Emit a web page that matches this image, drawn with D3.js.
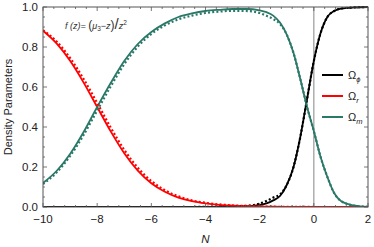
<!DOCTYPE html>
<html>
<head>
<meta charset="utf-8">
<script src="https://cdn.jsdelivr.net/npm/d3@7"></script>
<style>
  body { margin: 0; background: #fff; }
  text { font-family: "Liberation Sans", Arial, sans-serif; }
</style>
</head>
<body>
<div id="chart"></div>
<script>
// e-folding number N (sample points)
const nVals = [-10, -9.5, -9, -8.5, -8, -7.5, -7, -6.5, -6, -5.5, -5, -4.5, -4, -3.5, -3, -2.5,
               -2, -1.75, -1.5, -1.25, -1, -0.75, -0.5, -0.25, 0, 0.25, 0.5, 0.75, 1, 1.5, 2];

// solid curves
const phiSolid = [0, 0, 0, 0, 0, 0, 0, 0, 0, 0, 0, 0, 0.001, 0.001, 0.002, 0.003,
                  0.01, 0.018, 0.033, 0.055, 0.11, 0.2, 0.35, 0.54, 0.73, 0.87, 0.95, 0.98, 0.992, 0.998, 1.0];
const radSolid = [0.881, 0.818, 0.731, 0.622, 0.5, 0.378, 0.269, 0.182, 0.119, 0.076, 0.047, 0.029, 0.018, 0.011, 0.007, 0.004,
                  0.0025, 0.002, 0.0015, 0.001, 0.0008, 0.0005, 0.0003, 0.0002, 0.0001, 0, 0, 0, 0, 0, 0];
const matSolid = [0.12, 0.18, 0.265, 0.375, 0.5, 0.62, 0.73, 0.815, 0.875, 0.918, 0.95, 0.968, 0.98, 0.986, 0.99, 0.99,
                  0.983, 0.974, 0.957, 0.922, 0.862, 0.77, 0.64, 0.5, 0.38, 0.25, 0.15, 0.07, 0.03, 0.007, 0.001];

// dotted curves
const phiDot = [0, 0, 0, 0, 0, 0, 0, 0, 0, 0, 0, 0, 0.001, 0.002, 0.003, 0.006,
                0.017, 0.03, 0.047, 0.063, 0.11, 0.2, 0.35, 0.54, 0.73, 0.87, 0.95, 0.98, 0.992, 0.998, 1.0];
const radDot = [0.884, 0.828, 0.745, 0.64, 0.52, 0.397, 0.286, 0.196, 0.13, 0.084, 0.053, 0.033, 0.021, 0.013, 0.008, 0.005,
                0.003, 0.002, 0.0015, 0.001, 0.0008, 0.0005, 0.0003, 0.0002, 0.0001, 0, 0, 0, 0, 0, 0];
const matDot = [0.115, 0.172, 0.255, 0.36, 0.482, 0.603, 0.714, 0.802, 0.865, 0.908, 0.938, 0.957, 0.97, 0.977, 0.981, 0.98,
                0.97, 0.956, 0.94, 0.915, 0.862, 0.77, 0.64, 0.5, 0.38, 0.25, 0.15, 0.07, 0.03, 0.007, 0.001];

const xTicks = [-10, -8, -6, -4, -2, 0, 2];
const yTicks = [0, 0.2, 0.4, 0.6, 0.8, 1.0];

const colors = { phi: "#000000", rad: "#ff0000", mat: "#2a7868" };

const W = 374, H = 247;
const margin = { top: 7, right: 6, bottom: 40, left: 43 },
      width = W - margin.left - margin.right,
      height = H - margin.top - margin.bottom;

const svg = d3.select("#chart")
    .append("svg")
    .attr("width", W)
    .attr("height", H);

const g = svg.append("g")
    .attr("transform", `translate(${margin.left},${margin.top})`);

const x = d3.scaleLinear().domain([-10, 2]).range([0, width]);
const y = d3.scaleLinear().domain([0, 1]).range([height, 0]);

g.append("defs").append("clipPath").attr("id", "clip")
    .append("rect").attr("x", 0).attr("y", -2).attr("width", width).attr("height", height + 2);

// vertical line at N = 0
g.append("line")
    .attr("x1", x(0)).attr("x2", x(0))
    .attr("y1", 0).attr("y2", height)
    .attr("stroke", "#999").attr("stroke-width", 1.2);

const line = d3.line()
    .x(d => x(d[0]))
    .y(d => y(d[1]))
    .curve(d3.curveMonotoneX);

const plot = g.append("g").attr("clip-path", "url(#clip)");

const series = [
    { vals: phiSolid, color: colors.phi, dotted: false },
    { vals: radSolid, color: colors.rad, dotted: false },
    { vals: matSolid, color: colors.mat, dotted: false },
    { vals: phiDot, color: colors.phi, dotted: true },
    { vals: radDot, color: colors.rad, dotted: true },
    { vals: matDot, color: colors.mat, dotted: true }
];

series.forEach(s => {
    plot.append("path")
        .datum(nVals.map((n, i) => [n, s.vals[i]]))
        .attr("fill", "none")
        .attr("stroke", s.color)
        .attr("stroke-width", s.dotted ? 2.2 : 1.8)
        .attr("stroke-dasharray", s.dotted ? "2,2.2" : null)
        .attr("d", line);
});

// frame with ticks on every side
const frameColor = "#555";
g.append("rect")
    .attr("width", width).attr("height", height)
    .attr("fill", "none").attr("stroke", frameColor).attr("stroke-width", 1);

const xMinor = d3.range(-10, 2.001, 0.4).filter(v => !xTicks.some(t => Math.abs(t - v) < 1e-6));
const yMinor = d3.range(0, 1.001, 0.05).filter(v => !yTicks.some(t => Math.abs(t - v) < 1e-6));

const ticks = g.append("g").attr("stroke", frameColor).attr("stroke-width", 0.8);
xTicks.forEach(v => {
    ticks.append("line").attr("x1", x(v)).attr("x2", x(v)).attr("y1", height).attr("y2", height - 4);
    ticks.append("line").attr("x1", x(v)).attr("x2", x(v)).attr("y1", 0).attr("y2", 4);
});
xMinor.forEach(v => {
    ticks.append("line").attr("x1", x(v)).attr("x2", x(v)).attr("y1", height).attr("y2", height - 2);
    ticks.append("line").attr("x1", x(v)).attr("x2", x(v)).attr("y1", 0).attr("y2", 2);
});
yTicks.forEach(v => {
    ticks.append("line").attr("x1", 0).attr("x2", 4).attr("y1", y(v)).attr("y2", y(v));
    ticks.append("line").attr("x1", width).attr("x2", width - 4).attr("y1", y(v)).attr("y2", y(v));
});
yMinor.forEach(v => {
    ticks.append("line").attr("x1", 0).attr("x2", 2).attr("y1", y(v)).attr("y2", y(v));
    ticks.append("line").attr("x1", width).attr("x2", width - 2).attr("y1", y(v)).attr("y2", y(v));
});

// tick labels
g.selectAll(".xlab").data(xTicks).join("text")
    .attr("x", d => x(d)).attr("y", height + 16)
    .attr("text-anchor", "middle")
    .attr("font-size", "11.5px").attr("fill", "#222")
    .text(d => d < 0 ? "\u2212" + Math.abs(d) : d);

g.selectAll(".ylab").data(yTicks).join("text")
    .attr("x", -5).attr("y", d => y(d) + 4)
    .attr("text-anchor", "end")
    .attr("font-size", "11.5px").attr("fill", "#222")
    .text(d => d.toFixed(1));

// axis titles
g.append("text")
    .attr("transform", "rotate(-90)")
    .attr("x", -height / 2).attr("y", -31)
    .attr("text-anchor", "middle")
    .attr("font-size", "11px").attr("fill", "#222")
    .text("Density Parameters");

g.append("text")
    .attr("x", width / 2).attr("y", height + 36)
    .attr("text-anchor", "middle")
    .attr("font-size", "11.5px").attr("font-style", "italic").attr("fill", "#222")
    .text("N");

// formula annotation
const ann = svg.append("text")
    .attr("x", 65).attr("y", 29)
    .attr("font-size", "9px").attr("font-style", "italic").attr("fill", "#333");
ann.append("tspan").text("f (z)= ");
ann.append("tspan").attr("font-size", "12px").attr("font-style", "normal").text("(");
ann.append("tspan").text("\u03bc");
ann.append("tspan").attr("font-size", "6.5px").attr("font-style", "normal").attr("dy", 2).text("3");
ann.append("tspan").attr("dy", -2).attr("font-style", "normal").text("\u2212");
ann.append("tspan").text("z");
ann.append("tspan").attr("font-size", "12px").attr("font-style", "normal").text(")");
ann.append("tspan").attr("font-size", "15px").attr("font-style", "normal").text("/");
ann.append("tspan").text("z");
ann.append("tspan").attr("font-size", "6.5px").attr("font-style", "normal").attr("dy", -4).text("2");

// legend
const legendItems = [
    { label: "\u03a9", sub: "\u03d5", color: colors.phi },
    { label: "\u03a9", sub: "r", color: colors.rad },
    { label: "\u03a9", sub: "m", color: colors.mat }
];
const legend = svg.append("g").attr("transform", "translate(322,75)");
legendItems.forEach((d, i) => {
    const row = legend.append("g").attr("transform", `translate(0,${i * 21})`);
    row.append("line").attr("x1", 0).attr("x2", 21).attr("y1", 0).attr("y2", 0)
        .attr("stroke", d.color).attr("stroke-width", 2);
    const t = row.append("text").attr("x", 26).attr("y", 4)
        .attr("font-size", "11px").attr("fill", "#222");
    t.append("tspan").text(d.label);
    t.append("tspan").attr("font-size", "7.5px").attr("font-style", "italic").attr("dy", 2.5).text(d.sub);
});
</script>
</body>
</html>
